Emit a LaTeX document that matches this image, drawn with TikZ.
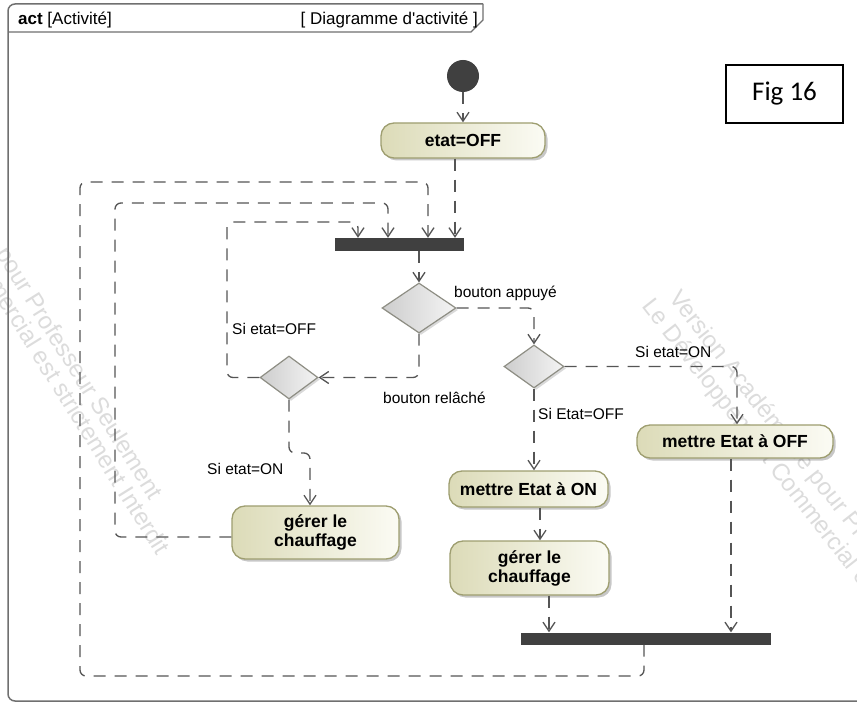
\documentclass[tikz,border=0pt]{standalone}
\usepackage{fontspec}
\setmainfont{Liberation Sans}
\newfontfamily\figfont{Carlito}
\usetikzlibrary{arrows.meta,shapes.geometric,shadows}
\definecolor{lineC}{HTML}{555555}
\definecolor{frameC}{HTML}{707070}
\definecolor{actBorder}{HTML}{9E9E70}
\definecolor{actL}{HTML}{DCDBB8}
\definecolor{actR}{HTML}{FBFBF4}
\definecolor{decBorder}{HTML}{8E8E84}
\definecolor{decL}{HTML}{CDCDCD}
\definecolor{decR}{HTML}{F4F4F4}
\definecolor{barC}{HTML}{404040}
\definecolor{wmC}{HTML}{DCDCDC}
\begin{document}
\begin{tikzpicture}[x=1pt,y=-1pt,
 flow/.style={draw=lineC, line width=1.3pt, dash pattern=on 12pt off 9pt, rounded corners=6pt,
   -{Straight Barb[length=9pt,width=12pt,line width=1.3pt]}},
 actbox/.style={draw=actBorder, line width=1.3pt, rounded corners=13pt, left color=actL, right color=actR,
   align=center, inner sep=0pt, font=\bfseries\fontsize{17.5}{19}\selectfont,
   drop shadow={shadow xshift=2.5pt, shadow yshift=-2.5pt, fill=black, opacity=0.22}},
 decision/.style={diamond, draw=decBorder, line width=1.2pt, left color=decL, right color=decR, inner sep=0pt,
   drop shadow={shadow xshift=2pt, shadow yshift=-2pt, fill=black, opacity=0.15}},
 barnode/.style={fill=barC, inner sep=0pt},
 lbl/.style={font=\fontsize{15.5}{18}\selectfont, inner sep=0pt, anchor=west},
 wm/.style={text=wmC, font=\fontsize{24}{26}\selectfont, anchor=base west, inner sep=0pt},
 hdr/.style={font=\fontsize{17}{19}\selectfont, inner sep=0pt}
]
\useasboundingbox (0,0) rectangle (857,703);
\fill[white] (0,0) rectangle (857,703);

% watermark
\node[wm, rotate=-58] (w1) at (-125,61) {Version Académique pour Professeur Seulement};
\node[wm, rotate=-58] (w2) at (-150,65) {Le Développement Commercial est strictement Interdit};
\node[wm, rotate=-52] (w3) at (668,298) {Version Académique pour Professeur Seulement};
\node[wm, rotate=-52] (w4) at (641,306) {Le Développement Commercial est strictement Interdit};

% frame
\draw[frameC, line width=1.5pt, rounded corners=7pt] (483,4) -- (8,4) -- (8,701) -- (880,701);
\draw[frameC, line width=1.3pt] (8,32) -- (471,32) -- (483,20) -- (483,4);
\node[hdr, anchor=base west] (h1) at (18,25) {\textbf{act} [Activité]};
\node[hdr, anchor=base east] (h2) at (478,25) {[ Diagramme d\textquotesingle activité ]};

% Fig box
\node[draw, line width=1.3pt, minimum width=117pt, minimum height=58pt, inner sep=0pt,
  font=\figfont\fontsize{27}{30}\selectfont] (fig) at (784.5,94) {Fig 16};

% nodes
\node[circle, fill=barC, minimum size=32pt, inner sep=0pt] (init) at (463,76) {};
\node[actbox, minimum width=164pt, minimum height=35pt] (etat) at (463,140.5) {etat=OFF};
\node[barnode, minimum width=129pt, minimum height=13pt] (fork) at (399.5,244.5) {};
\node[decision, minimum width=74pt, minimum height=50pt] (d1) at (419,308) {};
\node[decision, minimum width=60pt, minimum height=43pt] (d2) at (534,366.5) {};
\node[decision, minimum width=58pt, minimum height=43pt] (d3) at (289,377.5) {};
\node[actbox, minimum width=196pt, minimum height=33pt] (moff) at (735,441.5) {mettre Etat à OFF};
\node[actbox, minimum width=159pt, minimum height=36pt] (mon) at (528.5,489) {mettre Etat à ON};
\node[actbox, minimum width=167pt, minimum height=53pt] (gerl) at (315.5,532.5) {gérer le\\chauffage};
\node[actbox, minimum width=159pt, minimum height=54pt] (gerr) at (529.5,568) {gérer le\\chauffage};
\node[barnode, minimum width=250pt, minimum height=12pt] (join) at (646,638.5) {};

% labels
\node[lbl] (lb1) at (454,293) {bouton appuyé};
\node[lbl] (lb2) at (383,398) {bouton relâché};
\node[lbl] (lb3) at (232,329) {Si etat=OFF};
\node[lbl] (lb4) at (207,469) {Si etat=ON};
\node[lbl] (lb5) at (635,352) {Si etat=ON};
\node[lbl] (lb6) at (538,414) {Si Etat=OFF};

% connectors
\draw[flow] (init.south) -- (init.south |- etat.north);
\draw[flow] (455,0 |- etat.south) -- (455,0 |- fork.north);
\draw[flow] (644,0 |- join.south) -- (644,676) -- (80,676) -- (80,182) -- (428,182) -- (428,0 |- fork.north);
\draw[flow] (gerl.west |- 0,537) -- (115,537) -- (115,203) -- (388,203) -- (388,0 |- fork.north);
\draw[flow] (d3.west) -- (227,377.5) -- (227,222) -- (358,222) -- (358,0 |- fork.north);
\draw[flow] (d1.north |- fork.south) -- (d1.north);
\draw[flow] (d1.east) -- (534,308) -- (d2.north);
\draw[flow] (d1.south) -- (419,377.5) -- (d3.east);
\draw[flow] (d3.south) -- (289,453) -- (310,453) -- (310,0 |- gerl.north);
\draw[flow] (d2.east) -- (737,366.5) -- (737,0 |- moff.north);
\draw[flow] (d2.south) -- (d2.south |- mon.north);
\draw[flow] (540,0 |- mon.south) -- (540,0 |- gerr.north);
\draw[flow] (549,0 |- gerr.south) -- (549,0 |- join.north);
\draw[flow] (731,0 |- moff.south) -- (731,0 |- join.north);
\end{tikzpicture}
\end{document}
